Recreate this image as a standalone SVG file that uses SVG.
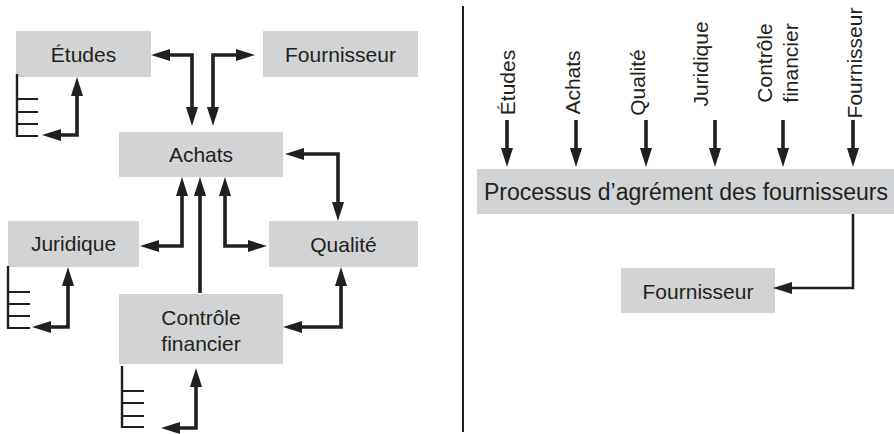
<svg xmlns="http://www.w3.org/2000/svg" width="894" height="434" viewBox="0 0 894 434">
<style>
.box{fill:#d1d3d4}
.t{font-family:"Liberation Sans",Arial,Helvetica,sans-serif;font-size:21px;fill:#231f20;text-anchor:middle}
.big{font-size:23px}
.c{fill:none;stroke:#231f20;stroke-width:3.6;stroke-linejoin:miter}
.thin{stroke-width:2.6}
.lst{fill:none;stroke:#231f20;stroke-width:2.4}
.tk{stroke:#231f20;stroke-width:2}
</style>
<defs>
<marker id="ah" markerUnits="userSpaceOnUse" markerWidth="20" markerHeight="12" refX="9" refY="6" orient="auto-start-reverse" viewBox="0 0 19 12">
<path d="M0,0 L19,6 L0,12 z" fill="#231f20"/>
</marker>
</defs>
<rect width="894" height="434" fill="#ffffff"/>

<g id="etudes"><rect class="box" x="16" y="31" width="135" height="46"/><text class="t" x="83.5" y="62">Études</text></g>
<g id="fournisseur-l"><rect class="box" x="263" y="31" width="155" height="46"/><text class="t" x="340.5" y="62">Fournisseur</text></g>
<g id="achats"><rect class="box" x="119" y="132" width="164" height="45"/><text class="t" x="201" y="162">Achats</text></g>
<g id="juridique"><rect class="box" x="8" y="221" width="131" height="46"/><text class="t" x="73.5" y="251">Juridique</text></g>
<g id="qualite"><rect class="box" x="269" y="221" width="149" height="46"/><text class="t" x="343.5" y="251.5">Qualité</text></g>
<g id="controle"><rect class="box" x="119" y="294" width="164" height="70"/><text class="t" x="201" y="325">Contrôle</text><text class="t" x="201" y="350.5">financier</text></g>

<g id="liste-etudes"><path class="lst" d="M17,74 V137"/><path class="tk" d="M17,99 H38 M17,112 H38 M17,124 H38 M17,136 H38"/></g>
<g id="liste-juridique"><path class="lst" d="M8,266 V329"/><path class="tk" d="M8,292 H30 M8,304 H30 M8,316 H30 M8,328 H30"/></g>
<g id="liste-controle"><path class="lst" d="M122,366 V428"/><path class="tk" d="M122,391 H144 M122,403 H144 M122,416 H144 M122,427 H144"/></g>

<g id="divider"><path d="M463,6 V432" stroke="#231f20" stroke-width="2" fill="none"/></g>

<g id="processus"><rect class="box" x="477" y="169" width="417" height="45"/><text class="t big" x="686" y="200">Processus d’agrément des fournisseurs</text></g>
<g id="fournisseur-r"><rect class="box" x="621" y="268" width="154" height="45"/><text class="t" x="698" y="299">Fournisseur</text></g>

<g id="labels">
<text class="t" transform="translate(515,82.5) rotate(-90)">Études</text>
<text class="t" transform="translate(580,82.5) rotate(-90)">Achats</text>
<text class="t" transform="translate(645,82.5) rotate(-90)">Qualité</text>
<text class="t" transform="translate(708,64) rotate(-90)">Juridique</text>
<text class="t" transform="translate(772,63) rotate(-90)">Contrôle</text>
<text class="t" transform="translate(798,63) rotate(-90)">financier</text>
<text class="t" transform="translate(862,63) rotate(-90)">Fournisseur</text>
</g>

<g id="connectors">
<path class="c" d="M161,55 H192 V116" marker-start="url(#ah)" marker-end="url(#ah)"/>
<path class="c" d="M213,116 V55 H245" marker-start="url(#ah)" marker-end="url(#ah)"/>
<path class="c" d="M77,87 V135 H52" marker-start="url(#ah)" marker-end="url(#ah)"/>
<path class="c" d="M295,154 H338 V211" marker-start="url(#ah)" marker-end="url(#ah)"/>
<path class="c" d="M182,187 V246 H150" marker-start="url(#ah)" marker-end="url(#ah)"/>
<path class="c" d="M200,293 V187" marker-end="url(#ah)"/>
<path class="c" d="M225,187 V246 H257" marker-start="url(#ah)" marker-end="url(#ah)"/>
<path class="c" d="M341,277 V327 H293" marker-start="url(#ah)" marker-end="url(#ah)"/>
<path class="c" d="M68,277 V327 H42" marker-start="url(#ah)" marker-end="url(#ah)"/>
<path class="c" d="M196,378 V428 H171" marker-start="url(#ah)" marker-end="url(#ah)"/>
<path class="c" d="M507,120 V157" marker-end="url(#ah)"/>
<path class="c" d="M576,120 V157" marker-end="url(#ah)"/>
<path class="c" d="M646,120 V157" marker-end="url(#ah)"/>
<path class="c" d="M715,120 V157" marker-end="url(#ah)"/>
<path class="c" d="M783,120 V157" marker-end="url(#ah)"/>
<path class="c" d="M853,120 V157" marker-end="url(#ah)"/>
<path class="c thin" d="M853,214 V288 H783" marker-end="url(#ah)"/>
</g>
</svg>
